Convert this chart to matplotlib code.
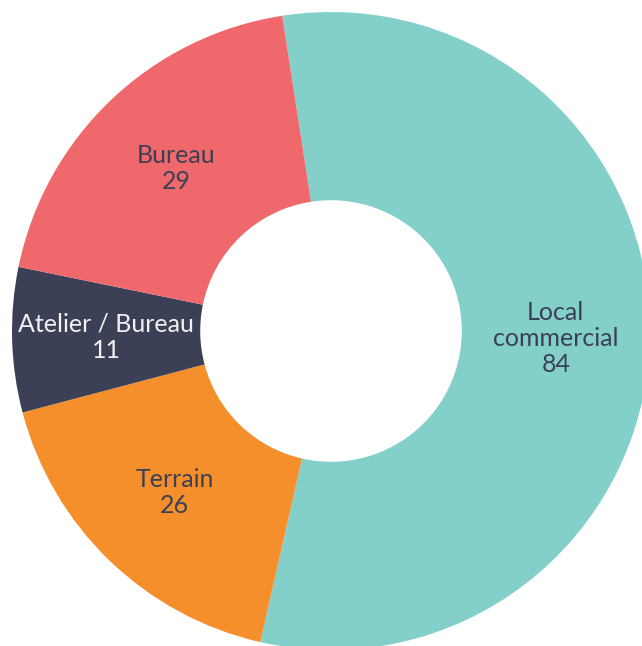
import matplotlib
matplotlib.use("Agg")
import matplotlib.pyplot as plt

categories = ["Local\ncommercial", "Terrain", "Atelier / Bureau", "Bureau"]
values = [84, 26, 11, 29]
colors = ["#83CFCA", "#F58F2C", "#3B4056", "#EF686B"]
text_colors = ["#3B4056", "#3B4056", "#F2F2F2", "#3B4056"]

W, H = 642, 646
fig = plt.figure(figsize=(W / 100, H / 100), dpi=100)
ax = fig.add_axes([0, 0, 1, 1])
ax.axis("off")

cx, cy, R = 331, 331, 319

labels = [f"{c}\n{v}" for c, v in zip(categories, values)]
wedges, texts = ax.pie(
    values,
    labels=labels,
    colors=colors,
    startangle=98.8,
    counterclock=False,
    radius=1.0,
    labeldistance=0.705,
    wedgeprops=dict(width=0.59, linewidth=0),
    textprops=dict(fontsize=18, family=["Lato", "DejaVu Sans"], ha="center", va="center",
                   linespacing=1.15),
    frame=False,
)
for t, tc in zip(texts, text_colors):
    t.set_color(tc)
    t.set_horizontalalignment("center")
    t.set_verticalalignment("center")

ax.set_xlim(-cx / R, (W - cx) / R)
ax.set_ylim(-(H - cy) / R, cy / R)
ax.set_aspect("auto")

fig.savefig("out.png", dpi=100, facecolor="white")
